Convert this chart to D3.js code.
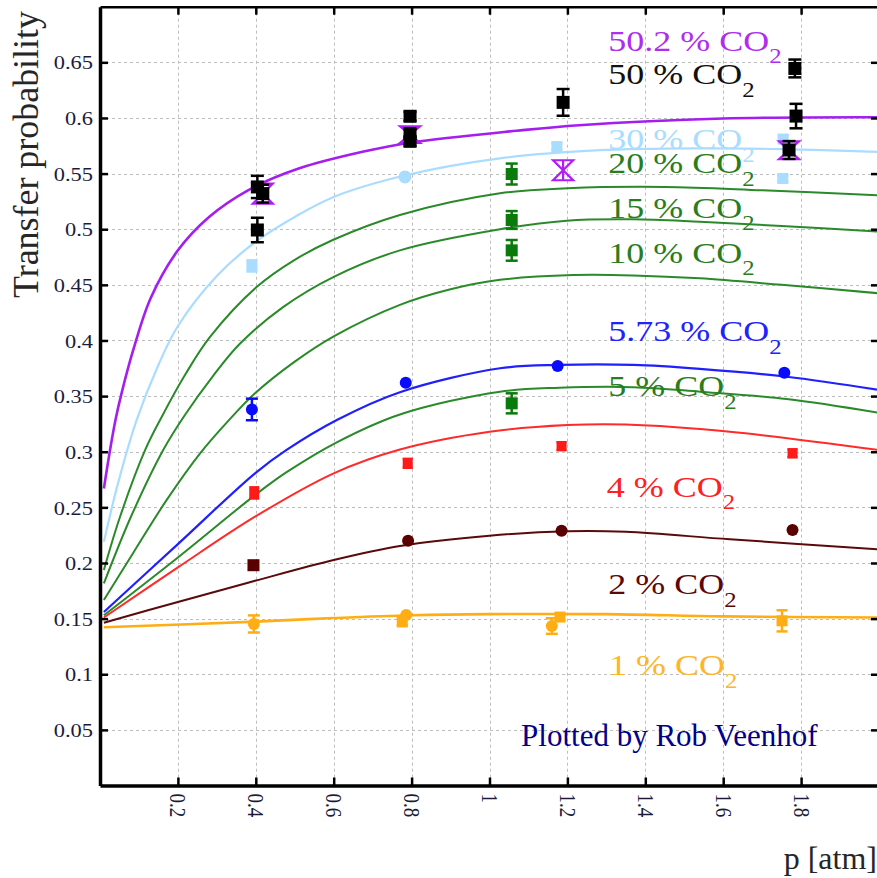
<!DOCTYPE html>
<html>
<head>
<meta charset="utf-8">
<script src="https://cdn.jsdelivr.net/npm/d3@7"></script>
<style>
	html, body { margin: 0; padding: 0; background: #fff; }
	svg { display: block; font-family: "Liberation Serif", "Times New Roman", serif; }
</style>
</head>
<body>
<div id="chart"></div>
<script>
// axis ticks
const xTicks = [0.2, 0.4, 0.6, 0.8, 1, 1.2, 1.4, 1.6, 1.8];
const xTickLabels = ["0.2", "0.4", "0.6", "0.8", "1", "1.2", "1.4", "1.6", "1.8"];
const yTicks = [0.05, 0.1, 0.15, 0.2, 0.25, 0.3, 0.35, 0.4, 0.45, 0.5, 0.55, 0.6, 0.65];
const yTickLabels = ["0.05", "0.1", "0.15", "0.2", "0.25", "0.3", "0.35", "0.4", "0.45", "0.5", "0.55", "0.6", "0.65"];

// fitted curves: [pressure (atm), transfer probability]
const fit502 = [[0.01, 0.267], [0.026, 0.302], [0.04, 0.329], [0.055, 0.352], [0.085, 0.391], [0.13, 0.438], [0.2, 0.481], [0.28, 0.511], [0.38, 0.535], [0.51, 0.5545], [0.68, 0.570], [0.8, 0.578], [1.07, 0.5885], [1.23, 0.5935], [1.6, 0.5995], [2.0, 0.6006]];
const fit30 = [[0.01, 0.219], [0.045, 0.27], [0.094, 0.3285], [0.15, 0.378], [0.2, 0.413], [0.3, 0.458], [0.4, 0.4888], [0.5, 0.511], [0.6, 0.529], [0.787, 0.5487], [1.027, 0.5637], [1.284, 0.571], [1.54, 0.5727], [1.75, 0.572], [2.0, 0.5695]];
const fit20 = [[0.01, 0.1937], [0.05, 0.24], [0.116, 0.3016], [0.158, 0.331], [0.22, 0.37], [0.282, 0.403], [0.402, 0.448], [0.5, 0.4725], [0.599, 0.4905], [0.77, 0.5128], [1.027, 0.5323], [1.2, 0.5368], [1.45, 0.538], [1.7, 0.535], [2.0, 0.5305]];
const fit15 = [[0.01, 0.1817], [0.08, 0.242], [0.163, 0.302], [0.218, 0.333], [0.29, 0.368], [0.359, 0.397], [0.47, 0.43], [0.599, 0.457], [0.77, 0.481], [1.027, 0.5], [1.198, 0.5077], [1.369, 0.5089], [1.54, 0.5067], [1.75, 0.503], [2.0, 0.4978]];
const fit10 = [[0.01, 0.1667], [0.086, 0.2095], [0.17, 0.256], [0.257, 0.2985], [0.334, 0.3295], [0.398, 0.3525], [0.5, 0.381], [0.599, 0.4035], [0.77, 0.432], [0.9, 0.446], [1.027, 0.4545], [1.215, 0.4588], [1.369, 0.4585], [1.54, 0.4559], [1.75, 0.45], [2.0, 0.4424]];
const fit573 = [[0.01, 0.156], [0.2, 0.217], [0.398, 0.2806], [0.479, 0.3016], [0.608, 0.3285], [0.77, 0.3535], [1.027, 0.375], [1.18, 0.378], [1.37, 0.378], [1.54, 0.3745], [1.763, 0.3674], [2.0, 0.3555]];
const fit5 = [[0.01, 0.153], [0.2, 0.205], [0.398, 0.261], [0.479, 0.2816], [0.608, 0.3085], [0.77, 0.3335], [1.027, 0.354], [1.18, 0.3575], [1.37, 0.358], [1.54, 0.354], [1.763, 0.3474], [2.0, 0.335]];
const fit4 = [[0.01, 0.151], [0.2, 0.196], [0.398, 0.2416], [0.6, 0.2806], [0.77, 0.302], [1.0, 0.318], [1.2, 0.324], [1.35, 0.3245], [1.617, 0.318], [2.0, 0.3015]];
const fit2 = [[0.01, 0.1463], [0.2, 0.165], [0.398, 0.184], [0.6, 0.2027], [0.77, 0.2153], [1.0, 0.2245], [1.2, 0.2285], [1.35, 0.228], [1.617, 0.2213], [2.0, 0.2123]];
const fit1 = [[0.01, 0.1422], [0.4, 0.1473], [0.6, 0.1505], [0.8, 0.153], [1.0, 0.154], [1.3, 0.154], [1.6, 0.152], [2.0, 0.151]];

// measurements: [pressure, probability, error]
const meas502 = [[0.418, 0.532, 0.009], [0.796, 0.585, 0.0075], [1.189, 0.553, 0.009], [1.769, 0.571, 0.008]];
const meas50 = [[0.404, 0.538, 0.010], [0.418, 0.532, 0.008], [0.404, 0.4993, 0.011], [0.796, 0.6015, 0.004], [0.796, 0.586, 0.004], [0.796, 0.579, 0.004], [1.189, 0.614, 0.012], [1.784, 0.6445, 0.008], [1.787, 0.6017, 0.011], [1.769, 0.5712, 0.008]];
const meas30Sq = [[0.39, 0.467, 0.005], [1.173, 0.5743, 0.003], [1.754, 0.581, 0.003], [1.753, 0.5456, 0.003]];
const meas30Ci = [[0.783, 0.547, 0]];
const measGreen = [[1.057, 0.5496, 0.0094], [1.057, 0.5083, 0.008], [1.057, 0.481, 0.0093], [1.057, 0.3435, 0.009]];
const meas573 = [[0.39, 0.338, 0.0097], [0.785, 0.362, 0], [1.175, 0.377, 0], [1.757, 0.371, 0]];
const meas4 = [[0.396, 0.263, 0.005], [0.79, 0.2896, 0.004], [1.185, 0.305, 0.0035], [1.778, 0.2986, 0.0035]];
const meas2Sq = [[0.394, 0.198, 0]];
const meas2Ci = [[0.791, 0.22, 0], [1.185, 0.229, 0], [1.778, 0.2296, 0]];
const meas1Sq = [[0.776, 0.147, 0.003], [1.181, 0.1514, 0.003], [1.751, 0.148, 0.0095]];
const meas1Ci = [[0.395, 0.1452, 0.0077], [0.786, 0.1532, 0], [1.16, 0.1433, 0.007]];

// curve labels: [text, pressure, probability at baseline, colour]
const labels = [
	["50.2 % CO", 1.305, 0.6604, "#b02cf0"],
	["50 % CO", 1.305, 0.6305, "#111111"],
	["30 % CO", 1.305, 0.572, "#a9ddff"],
	["20 % CO", 1.305, 0.5505, "#2a7d1c"],
	["15 % CO", 1.305, 0.5105, "#2a7d1c"],
	["10 % CO", 1.305, 0.470, "#2a7d1c"],
	["5.73 % CO", 1.305, 0.3995, "#2222ff"],
	["5 % CO", 1.305, 0.350, "#2a7d1c"],
	["4 % CO", 1.301, 0.2596, "#ff2020"],
	["2 % CO", 1.305, 0.172, "#5a0808"],
	["1 % CO", 1.307, 0.0993, "#ffb526"]
];

const W = 877, H = 878;
const svg = d3.select("#chart").append("svg").attr("width", W).attr("height", H);

const x = d3.scaleLinear().domain([0, 2]).range([100, 879]);
const y = d3.scaleLinear().domain([0, 0.7]).range([785.5, 6.7]);

// grid
const grid = svg.append("g").attr("stroke", "#bdbdbd").attr("stroke-dasharray", "3,3").attr("stroke-width", 1);
grid.selectAll(".gx").data(xTicks).join("line")
	.attr("x1", d => Math.round(x(d)) + 0.5).attr("x2", d => Math.round(x(d)) + 0.5)
	.attr("y1", y(0.7)).attr("y2", y(0));
grid.selectAll(".gy").data(yTicks).join("line")
	.attr("y1", d => Math.round(y(d)) + 0.5).attr("y2", d => Math.round(y(d)) + 0.5)
	.attr("x1", x(0)).attr("x2", x(2));

// clip
svg.append("clipPath").attr("id", "plot").append("rect")
	.attr("x", x(0)).attr("y", y(0.7)).attr("width", x(2) - x(0)).attr("height", y(0) - y(0.7));

// curves
const line = d3.line().x(d => x(d[0])).y(d => y(d[1])).curve(d3.curveCatmullRom.alpha(0.5));
const curves = svg.append("g").attr("clip-path", "url(#plot)").attr("fill", "none");
const drawFit = (data, color, w) => curves.append("path").datum(data).attr("d", line)
	.attr("stroke", color).attr("stroke-width", w);
drawFit(fit1, "#ffad14", 2.6);
drawFit(fit2, "#5a0a0a", 2);
drawFit(fit4, "#ff2a2a", 2);
drawFit(fit5, "#2a8a2a", 2);
drawFit(fit573, "#1f1fff", 2.2);
drawFit(fit10, "#2a8a2a", 2);
drawFit(fit15, "#2a8a2a", 2);
drawFit(fit20, "#2a8a2a", 2);
drawFit(fit30, "#aadcff", 2.2);
drawFit(fit502, "#a41ef0", 2.6);

// markers
const marks = svg.append("g");
function errBars(data, color, cap) {
	const g = marks.append("g").attr("stroke", color).attr("stroke-width", 2.5);
	data.filter(d => d[2] > 0).forEach(d => {
		const cx = x(d[0]);
		g.append("line").attr("x1", cx).attr("x2", cx).attr("y1", y(d[1] - d[2])).attr("y2", y(d[1] + d[2]));
		g.append("line").attr("x1", cx - cap / 2).attr("x2", cx + cap / 2).attr("y1", y(d[1] - d[2])).attr("y2", y(d[1] - d[2]));
		g.append("line").attr("x1", cx - cap / 2).attr("x2", cx + cap / 2).attr("y1", y(d[1] + d[2])).attr("y2", y(d[1] + d[2]));
	});
}
function squares(data, color, s) {
	errBars(data, color, s);
	marks.append("g").selectAll("rect").data(data).join("rect")
		.attr("x", d => x(d[0]) - s / 2).attr("y", d => y(d[1]) - s / 2)
		.attr("width", s).attr("height", s).attr("fill", color);
}
function circles(data, color, r) {
	errBars(data, color, 2 * r);
	marks.append("g").selectAll("circle").data(data).join("circle")
		.attr("cx", d => x(d[0])).attr("cy", d => y(d[1])).attr("r", r).attr("fill", color);
}
function hourglass(data, color) {
	const g = marks.append("g").attr("stroke", color).attr("stroke-width", 2.2).attr("fill", "none");
	data.forEach(d => {
		const cx = x(d[0]), cy = y(d[1]), hh = Math.abs(y(d[1] + d[2]) - cy);
		g.append("path").attr("d", `M${cx - 10},${cy - hh}H${cx + 10}L${cx - 10},${cy + hh}H${cx + 10}Z`);
		g.append("line").attr("x1", cx).attr("x2", cx).attr("y1", cy - hh).attr("y2", cy + hh);
	});
}

circles(meas1Ci, "#ffad14", 6);
squares(meas1Sq, "#ffad14", 11);
squares(meas2Sq, "#5a0000", 12);
circles(meas2Ci, "#5a0000", 6);
squares(meas4, "#ff1a1a", 10);
circles(meas573, "#0a0aff", 6);
squares(measGreen, "#0a7a0a", 12);
squares(meas30Sq, "#a9ddff", 11);
circles(meas30Ci, "#a9ddff", 6.5);
hourglass(meas502, "#b01ef5");
squares(meas50, "#000000", 13);

// curve labels
labels.forEach(d => {
	const t = svg.append("text")
		.attr("transform", `translate(${x(d[1])},${y(d[2])}) scale(1.18,1)`)
		.attr("fill", d[3])
		.style("font-size", "30.5px");
	t.append("tspan").text(d[0]);
	t.append("tspan").attr("dy", 12.7).style("font-size", "21px").text("2");
});

// axes
const styleAxis = g => {
	g.select(".domain").attr("stroke", "#000").attr("stroke-width", 3.5);
	g.selectAll(".tick line").attr("stroke", "#000").attr("stroke-width", 2.5);
};

const axisL = svg.append("g").attr("transform", `translate(${x(0)},0)`)
	.call(d3.axisLeft(y).tickValues(yTicks).tickSize(-8).tickSizeOuter(0).tickFormat((d, i) => yTickLabels[i]))
	.call(styleAxis);
axisL.selectAll(".tick text")
	.attr("x", null).attr("dy", "0.35em")
	.attr("transform", "translate(-7,0) scale(1.18,1)")
	.attr("fill", "#1c1c3a").style("font-size", "19px").style("font-family", "Liberation Serif");

const axisB = svg.append("g").attr("transform", `translate(0,${y(0)})`)
	.call(d3.axisBottom(x).tickValues(xTicks).tickSize(-8).tickSizeOuter(0).tickFormat((d, i) => xTickLabels[i]))
	.call(styleAxis);
axisB.selectAll(".tick text")
	.attr("y", null).attr("dy", null)
	.attr("transform", "translate(0,8) rotate(90) scale(1,1.18)")
	.attr("text-anchor", "start").attr("dominant-baseline", "central")
	.attr("fill", "#1c1c3a").style("font-size", "19px").style("font-family", "Liberation Serif");

const axisT = svg.append("g").attr("transform", `translate(0,${y(0.7)})`)
	.call(d3.axisTop(x).tickValues(xTicks).tickSize(-8).tickSizeOuter(0).tickFormat(""))
	.call(styleAxis);
axisT.select(".domain").attr("stroke-width", 2.5);

svg.append("g").attr("transform", `translate(${x(2)},0)`)
	.call(d3.axisRight(y).tickValues(yTicks).tickSize(-8).tickSizeOuter(0).tickFormat(""))
	.call(styleAxis);

// titles
svg.append("text")
	.attr("transform", "translate(38,298) rotate(-90)")
	.attr("textLength", 287).attr("lengthAdjust", "spacingAndGlyphs")
	.attr("fill", "#262626").style("font-size", "35px")
	.text("Transfer probability");

svg.append("text")
	.attr("x", 877).attr("y", 869).attr("text-anchor", "end")
	.attr("fill", "#262626").style("font-size", "32px")
	.text("p [atm]");

svg.append("text")
	.attr("x", x(1.081)).attr("y", y(0.0358))
	.attr("fill", "#00008b").style("font-size", "31px")
	.text("Plotted by Rob Veenhof");
</script>
</body>
</html>
